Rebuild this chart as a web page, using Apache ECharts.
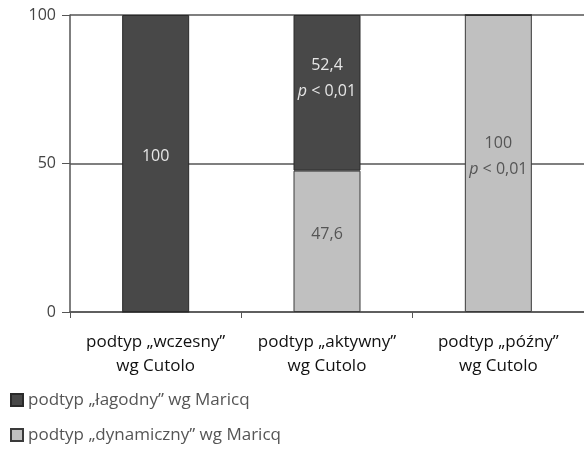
<!DOCTYPE html>
<html>
<head>
<meta charset="utf-8">
<script src="https://cdn.jsdelivr.net/npm/echarts@6/dist/echarts.min.js"></script>
<style>
  html, body { margin: 0; padding: 0; background: #fff; }
  #chart { width: 584px; height: 450px; }
</style>
</head>
<body>
<div id="chart"></div>
<script>
const categories = ['podtyp „wczesny”\nwg Cutolo', 'podtyp „aktywny”\nwg Cutolo', 'podtyp „późny”\nwg Cutolo']
const seriesNames = ['podtyp „łagodny” wg Maricq', 'podtyp „dynamiczny” wg Maricq']
const lagodny = [100, 52.4, 0]
const dynamiczny = [0, 47.6, 100]
const lagodnyP = ['', 'p < 0,01', '']
const dynamicznyP = ['', '', 'p < 0,01']
const yTicks = [0, 50, 100]

const FONT = '"Open Sans", "Noto Sans", sans-serif'
// vertical nudges for the value labels inside the bars
const darkLabelDy = [-7, -14, -7]
const lightLabelDy = [-7, -7, -7]

const chart = echarts.init(document.getElementById('chart'))

function fmtLabel(pList) {
  return (p) => {
    if (!p.value) return ''
    const num = String(p.value).replace('.', ',')
    const pv = pList[p.dataIndex]
    if (!pv) return num
    return num + '\n{i|p}' + pv.slice(1)
  }
}

function label(color, pList) {
  return {
    show: true,
    position: 'inside',
    color: color,
    fontFamily: FONT,
    fontSize: 16,
    lineHeight: 26,
    formatter: fmtLabel(pList),
    rich: { i: { fontStyle: 'italic', color: color, fontFamily: FONT, fontSize: 16 } },
  }
}

function items(vals, dys) {
  return vals.map((v, i) => ({ value: v, label: { offset: [0, dys[i]] } }))
}

chart.setOption({
  backgroundColor: '#fff',
  animation: false,
  grid: { left: 70, top: 15, bottom: 138, right: -5 },
  legend: {
    orient: 'vertical',
    left: 10,
    top: 390,
    padding: 0,
    itemGap: 15,
    itemWidth: 12,
    itemHeight: 12,
    icon: 'rect',
    data: seriesNames,
    textStyle: { color: '#555', fontFamily: FONT, fontSize: 17, lineHeight: 20 },
  },
  xAxis: {
    type: 'category',
    data: categories,
    axisLine: { lineStyle: { color: '#555', width: 1.5 } },
    axisTick: { show: true, length: 6, lineStyle: { color: '#555' } },
    axisLabel: { interval: 0, color: '#111', fontFamily: FONT, fontSize: 17, lineHeight: 24, margin: 18 },
  },
  yAxis: {
    type: 'value',
    min: yTicks[0],
    max: yTicks[yTicks.length - 1],
    interval: 50,
    axisLine: { show: true, lineStyle: { color: '#555', width: 1.5 } },
    axisTick: { show: true, length: 8, lineStyle: { color: '#555' } },
    splitLine: { lineStyle: { color: '#555', width: 1.5 } },
    axisLabel: { color: '#444', fontFamily: FONT, fontSize: 16, margin: 14 },
  },
  series: [
    {
      name: seriesNames[1],
      type: 'bar',
      stack: 'a',
      data: items(dynamiczny, lightLabelDy),
      barWidth: 67,
      itemStyle: { color: '#c0c0c0', borderColor: '#3a3a3a', borderWidth: 1 },
      label: label('#555', dynamicznyP),
    },
    {
      name: seriesNames[0],
      type: 'bar',
      stack: 'a',
      data: items(lagodny, darkLabelDy),
      barWidth: 67,
      itemStyle: { color: '#484848', borderColor: '#2a2a2a', borderWidth: 1 },
      label: label('#e6e6e6', lagodnyP),
    },
  ],
})
</script>
</body>
</html>
